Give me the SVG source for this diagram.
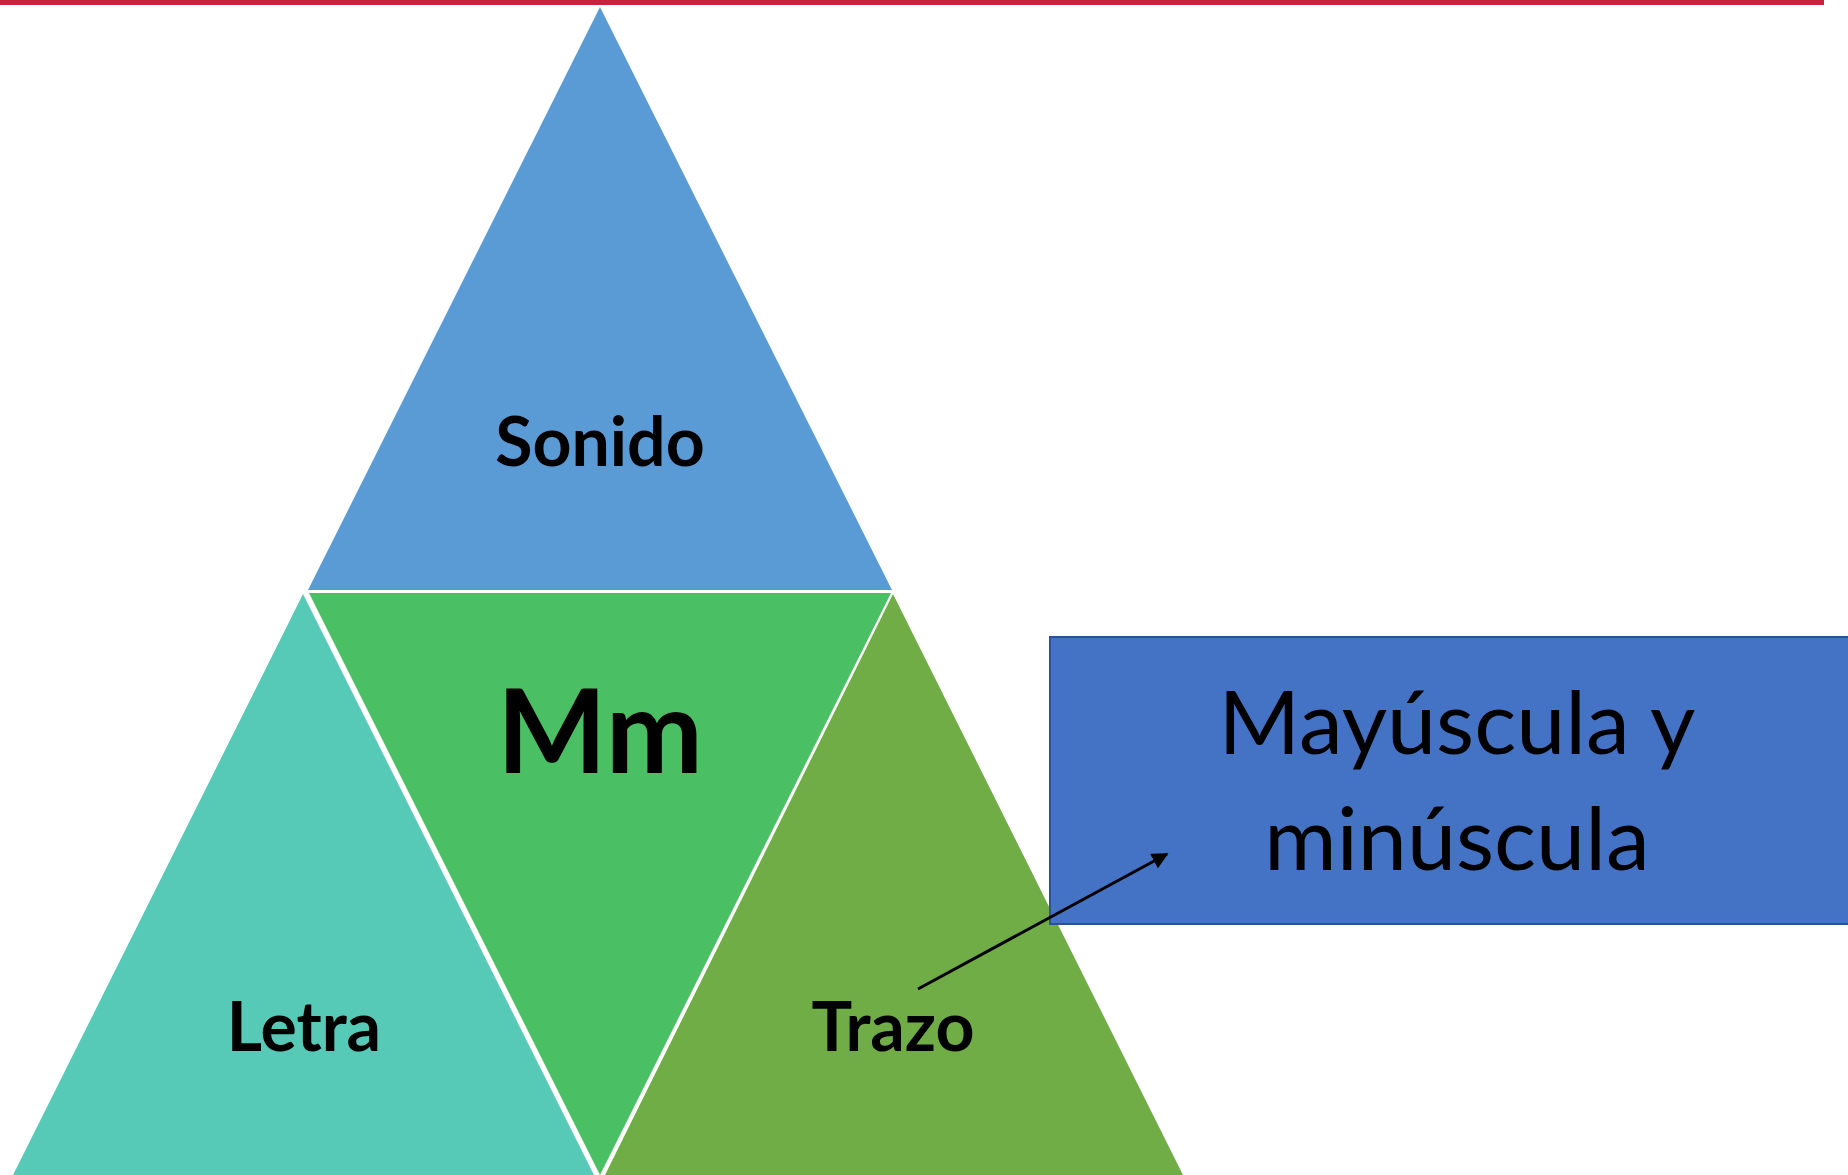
<svg xmlns="http://www.w3.org/2000/svg" width="1848" height="1175" viewBox="0 0 1848 1175">
<style>
.lbl{font-family:Lato,"Open Sans","Liberation Sans",sans-serif;font-weight:bold;fill:#000;text-anchor:middle}
.box{font-family:Lato,"Open Sans","Liberation Sans",sans-serif;fill:#000;text-anchor:middle;font-size:88px}
</style>
<defs>
<marker id="ah" viewBox="0 0 10 10" refX="9" refY="5" markerWidth="5.5" markerHeight="5.5" orient="auto" markerUnits="strokeWidth">
<path d="M0,0 L10,5 L0,10 Z" fill="#000"/>
</marker>
</defs>
<rect width="1848" height="1175" fill="#fff"/>
<rect x="0" y="0" width="1824" height="5" fill="#C9213E"/>
<g id="sonido">
<polygon points="600,7 892,590 308,590" fill="#5B9BD5"/>
<text class="lbl" x="600" y="466" font-size="68">Sonido</text>
</g>
<g id="mm">
<polygon points="309,593 891,593 600,1175" fill="#4BBF63"/>
<text class="lbl" x="600" y="773" font-size="116">Mm</text>
</g>
<g id="letra">
<polygon points="303,594 594,1175 13,1175" fill="#56C9B7"/>
<text class="lbl" x="304" y="1051" font-size="68">Letra</text>
</g>
<g id="trazo">
<polygon points="893,594 1183,1175 605,1175" fill="#70AD47"/>
<text class="lbl" x="893" y="1051" font-size="68">Trazo</text>
</g>
<g id="mayuscula">
<rect x="1050" y="637" width="810" height="287" fill="#4472C4" stroke="#2F528F" stroke-width="2"/>
<text class="box" x="1457" y="754">Mayúscula y</text>
<text class="box" x="1457" y="870">minúscula</text>
</g>
<g id="connectors">
<line x1="918" y1="989" x2="1167" y2="854" stroke="#000" stroke-width="3" marker-end="url(#ah)"/>
</g>
</svg>
